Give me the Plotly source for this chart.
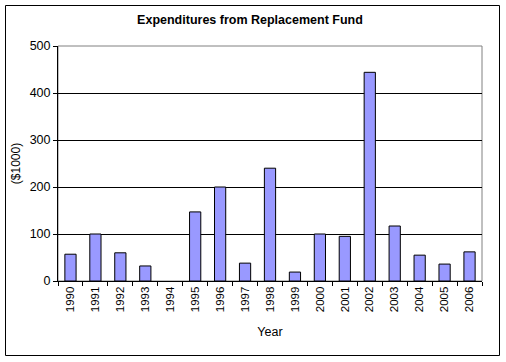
import plotly.graph_objects as go

years = [str(y) for y in range(1990, 2007)]
values = [57, 100, 60, 32, 0, 147, 200, 38, 240, 19, 100, 95, 444, 117, 55, 36, 62]
y_ticks = [0, 100, 200, 300, 400, 500]

W, H = 506, 362
L, R, T, B = 58, 24, 46, 81
pw, ph = W - L - R, H - T - B

def px(x):
    return (x - L) / pw

def py(y):
    return (H - B - y) / ph

fig = go.Figure(go.Bar(
    x=years, y=values,
    marker=dict(color="#9999FF",
                line=dict(color="black", width=[0 if v == 0 else 1 for v in values])),
    width=0.45,
))

fig.update_layout(
    width=W, height=H,
    margin=dict(l=L, r=R, t=T, b=B),
    paper_bgcolor="white", plot_bgcolor="white",
    font=dict(family="Arial, Liberation Sans, sans-serif", color="black"),
    title=dict(text="<b>Expenditures from Replacement Fund</b>", x=0.494, xanchor="center",
               y=1 - 20 / H, yanchor="middle", font=dict(size=12.5)),
    showlegend=False,
    shapes=[
        dict(type="rect", xref="paper", yref="paper", x0=0, x1=1, y0=0, y1=1,
             line=dict(color="#808080", width=1), layer="below"),
        dict(type="rect", xref="paper", yref="paper", x0=px(5.5), x1=px(499.5),
             y0=py(355.5), y1=py(5.5), line=dict(color="black", width=1)),
    ],
)
fig.update_xaxes(
    type="category", tickangle=-90, tickfont=dict(size=11.5),
    ticks="outside", ticklen=4, tickcolor="black", tickson="boundaries",
    showline=True, linecolor="black", linewidth=1,
    title=dict(text="Year", font=dict(size=12.5), standoff=16),
    range=[-0.5, 16.5],
)
fig.update_yaxes(
    range=[0, 500], tickvals=y_ticks, tickfont=dict(size=12.5),
    ticks="outside", ticklen=4, tickcolor="black",
    showline=True, linecolor="black", linewidth=1,
    showgrid=True, gridcolor="black", gridwidth=1, zeroline=False,
    title=dict(text="($1000)", font=dict(size=12), standoff=6),
)

fig.write_html("out.html", config={"displayModeBar": False},
               post_script="document.body.style.margin='0';document.body.style.overflow='hidden';")
